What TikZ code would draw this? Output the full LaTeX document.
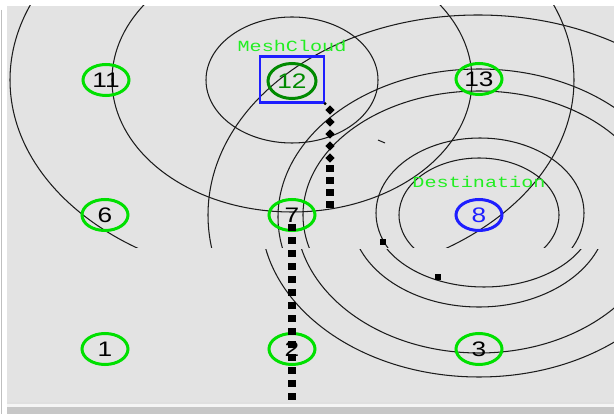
\documentclass[tikz,border=0pt]{standalone}
\usepackage{fontspec}
\usetikzlibrary{shapes.geometric}
\newfontfamily\numfont[FakeStretch=1.25]{Liberation Sans}
\newfontfamily\labfont[FakeStretch=1.3]{Liberation Mono}
\definecolor{canvas}{HTML}{E3E3E3}
\definecolor{ringgreen}{HTML}{00E000}
\definecolor{labgreen}{HTML}{22EE22}
\definecolor{darkgreen}{HTML}{008A00}
\definecolor{nodeblue}{HTML}{1E1EFF}
\definecolor{arcline}{HTML}{1C1C1C}
\tikzset{
  rangering/.style={draw=arcline, line width=1.05pt},
  mote/.style={ellipse, draw=ringgreen, line width=3pt, minimum width=46pt,
    minimum height=31pt, inner sep=0pt, text=black,
    font=\numfont\fontsize{21pt}{21pt}\selectfont},
  tag/.style={text=labgreen, inner sep=0pt, font=\labfont\fontsize{15.5pt}{15.5pt}\selectfont},
  hop/.style={line width=7.5pt, draw=black},
  pkt/.style={fill=black, inner sep=0pt, minimum size=6.5pt},
  pktd/.style={diamond, fill=black, inner sep=0pt, minimum size=9.5pt}
}
\begin{document}
\begin{tikzpicture}[x=1pt, y=-1pt]
\useasboundingbox (0,0) rectangle (614,414);
% window frame and canvas
\fill[white] (0,0) rectangle (614,414);
\fill[canvas] (7,6) rectangle (614,402);
\fill[black!12] (7,402) rectangle (614,404);
\fill[black!4] (7,404) rectangle (614,407);
\fill[black!22] (7,407) rectangle (614,414);
\draw[black!25, line width=0.8pt] (1,10) -- (1,414);

% transmission ranges, upper band
\begin{scope}
  \clip (7,6) rectangle (614,248);
  \draw[rangering] (292,80) ellipse [x radius=86pt, y radius=63pt];
  \draw[rangering] (292,80) ellipse [x radius=180pt, y radius=132pt];
  \draw[rangering] (292,80) ellipse [x radius=282pt, y radius=201pt];
  \draw[rangering] (479,215) ellipse [x radius=80pt, y radius=57pt];
  \draw[rangering] (480,213) ellipse [x radius=104pt, y radius=75pt];
  \draw[rangering] (479,215) ellipse [x radius=176pt, y radius=124pt];
  \draw[rangering] (479,217) ellipse [x radius=201pt, y radius=148pt];
  \draw[rangering] (478,215) ellipse [x radius=270pt, y radius=200pt];
\end{scope}
% transmission ranges, lower band
\begin{scope}
  \clip (7,250) rectangle (614,402);
  \draw[rangering] (479,215) ellipse [x radius=128pt, y radius=92pt];
  \draw[rangering] (484,215) ellipse [x radius=110pt, y radius=72pt];
  \draw[rangering] (479,215) ellipse [x radius=183pt, y radius=138pt];
  \draw[rangering] (479,215) ellipse [x radius=218pt, y radius=162pt];
\end{scope}
\draw[arcline, line width=1pt] (378,140) -- (385,143);

% nodes
\node[mote] (n11) at (106,80) {11};
\node[mote, draw=darkgreen, text=darkgreen, minimum width=48pt, minimum height=35pt] (n12) at (292,81) {12};
\node[mote] (n13) at (479,79) {13};
\node[mote] (n6) at (105,215) {6};
\node[mote] (n7) at (292,215) {7};
\node[mote, draw=nodeblue, text=nodeblue] (n8) at (479,215) {8};
\node[mote] (n1) at (105,349) {1};
\node[mote] (n2) at (292,349) {2};
\node[mote] (n3) at (479,349) {3};

\node[draw=nodeblue, line width=2.2pt, minimum width=64pt, minimum height=46pt] (box12) at (292,79.5) {};
\node[tag] (lab12) at (292,46) {MeshCloud};
\node[tag] (lab8) at (479,182) {Destination};

% packet path
\coordinate (hopA) at (330,165.5);
\coordinate (hopB) at (330,211);
\coordinate (hopEnd) at (292,401);
\fill[black] (box12.south east) circle (1.6pt);
\foreach \yy in {110,122,134,146,158} \node[pktd] at (330,\yy) {};
\draw[hop, dash pattern=on 7pt off 5pt] (hopA) -- (hopB);
\draw[hop, dash pattern=on 7pt off 6pt] ([yshift=-9.5pt]n7.center) -- (hopEnd);
\node[pkt] (pa) at (383,242) {};
\node[pkt] (pb) at (438,277) {};
\end{tikzpicture}
\end{document}
